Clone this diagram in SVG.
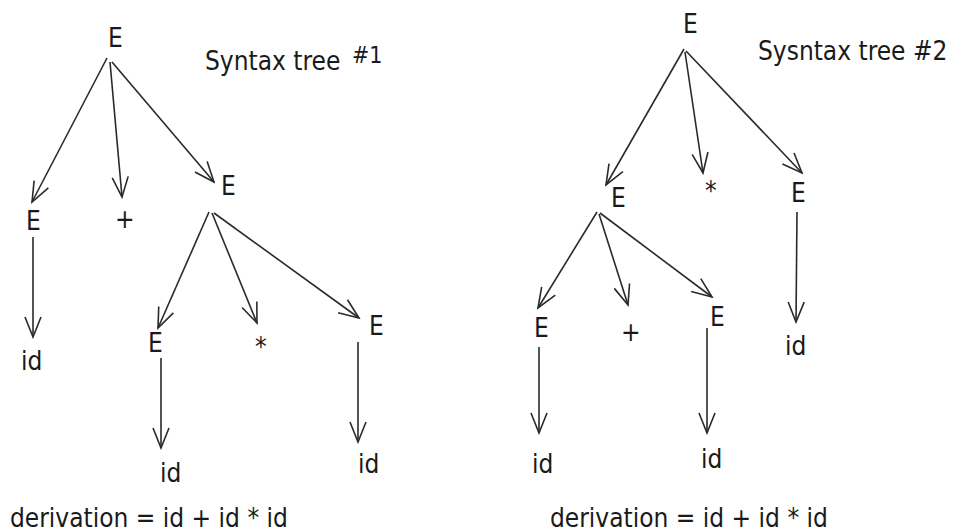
<svg xmlns="http://www.w3.org/2000/svg" width="954" height="532" viewBox="0 0 954 532">
<style>
  text { font-family: "DejaVu Sans Condensed", "DejaVu Sans", "Liberation Sans", sans-serif; font-stretch: condensed; font-size: 26px; fill: #1a1a1a; }
  .small { font-size: 23px; }
  .edge { stroke: #2a2a2a; stroke-width: 1.6; fill: none; marker-end: url(#arr); }
</style>
<defs>
  <marker id="arr" markerUnits="userSpaceOnUse" markerWidth="24" markerHeight="20" viewBox="0 0 24 20" refX="22" refY="10" orient="auto">
    <path d="M2,2 L22,10 L2,18" fill="none" stroke="#2a2a2a" stroke-width="1.6"/>
  </marker>
</defs>
<rect width="954" height="532" fill="#ffffff"/>

<g id="tree1">
  <g id="t1-root"><text x="108" y="47">E</text></g>
  <g id="t1-title"><text x="205" y="70">Syntax tree</text><text class="small" x="352" y="63">#1</text></g>
  <g id="t1-E1"><text x="26" y="230">E</text></g>
  <g id="t1-plus"><text x="115" y="228">+</text></g>
  <g id="t1-E2"><text x="221" y="195">E</text></g>
  <g id="t1-id1"><text x="21" y="370">id</text></g>
  <g id="t1-E3"><text x="148" y="352">E</text></g>
  <g id="t1-star"><text x="255" y="356">*</text></g>
  <g id="t1-E4"><text x="369" y="335">E</text></g>
  <g id="t1-id2"><text x="160" y="482">id</text></g>
  <g id="t1-id3"><text x="358" y="473">id</text></g>
  <g id="t1-deriv"><text x="10" y="527">derivation = id + id * id</text></g>
</g>

<g id="tree2">
  <g id="t2-root"><text x="683" y="33">E</text></g>
  <g id="t2-title"><text x="758" y="60">Sysntax tree #2</text></g>
  <g id="t2-E1"><text x="611" y="207">E</text></g>
  <g id="t2-star"><text x="705" y="200">*</text></g>
  <g id="t2-E2"><text x="791" y="202">E</text></g>
  <g id="t2-id1"><text x="785" y="355">id</text></g>
  <g id="t2-E3"><text x="534" y="337">E</text></g>
  <g id="t2-plus"><text x="621" y="341">+</text></g>
  <g id="t2-E4"><text x="710" y="326">E</text></g>
  <g id="t2-id2"><text x="532" y="473">id</text></g>
  <g id="t2-id3"><text x="701" y="468">id</text></g>
  <g id="t2-deriv"><text x="550" y="527">derivation = id + id * id</text></g>
</g>

<g id="connectors">
  <line class="edge" x1="107" y1="58" x2="32" y2="202"/>
  <line class="edge" x1="110" y1="62" x2="122" y2="197"/>
  <line class="edge" x1="112" y1="62" x2="214" y2="182"/>
  <line class="edge" x1="33" y1="237" x2="33" y2="337"/>
  <line class="edge" x1="209" y1="212" x2="158" y2="328"/>
  <line class="edge" x1="212" y1="213" x2="257" y2="323"/>
  <line class="edge" x1="214" y1="213" x2="359" y2="318"/>
  <line class="edge" x1="161" y1="358" x2="161" y2="448"/>
  <line class="edge" x1="358" y1="342" x2="358" y2="442"/>

  <line class="edge" x1="684" y1="49" x2="606" y2="185"/>
  <line class="edge" x1="685" y1="52" x2="703" y2="173"/>
  <line class="edge" x1="686" y1="51" x2="802" y2="173"/>
  <line class="edge" x1="797" y1="212" x2="796" y2="322"/>
  <line class="edge" x1="597" y1="212" x2="538" y2="308"/>
  <line class="edge" x1="599" y1="214" x2="628" y2="305"/>
  <line class="edge" x1="600" y1="213" x2="712" y2="297"/>
  <line class="edge" x1="539" y1="347" x2="539" y2="433"/>
  <line class="edge" x1="707" y1="328" x2="707" y2="433"/>
</g>
</svg>
